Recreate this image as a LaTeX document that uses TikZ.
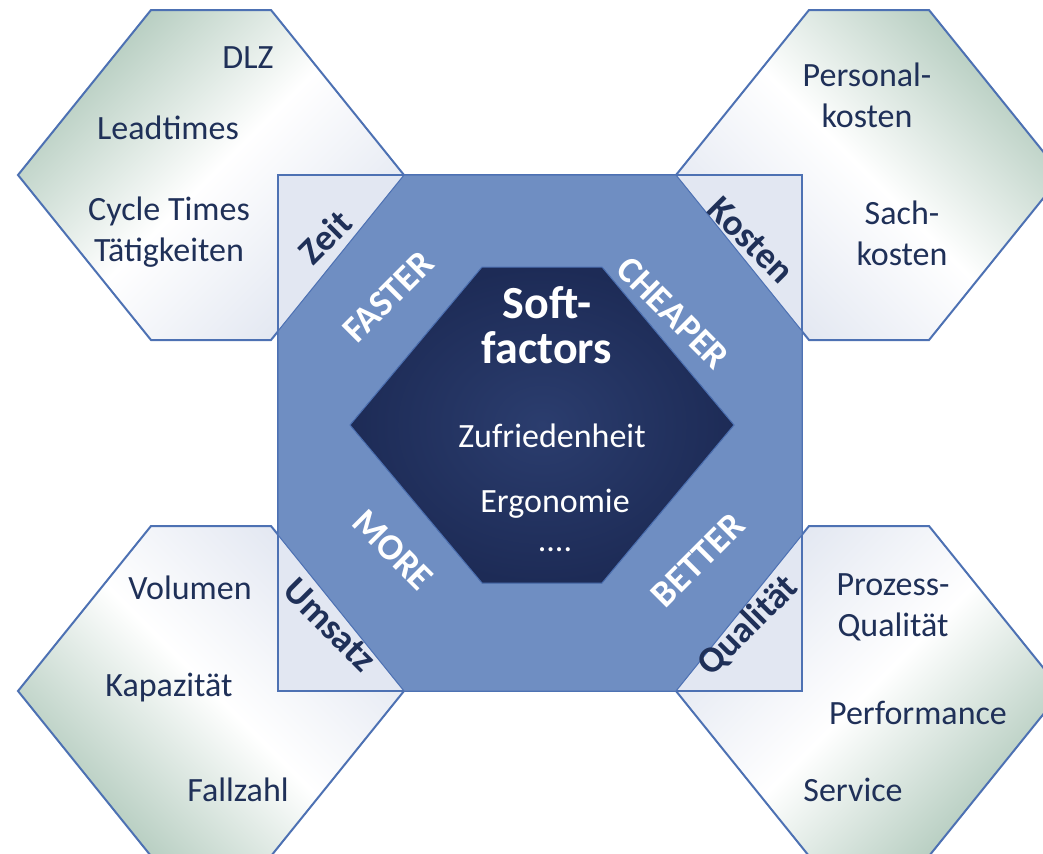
\documentclass[tikz,border=0pt]{standalone}
\usepackage{fontspec}
\setmainfont{Carlito}
\definecolor{hexgreen}{RGB}{176,201,187}
\definecolor{hexpale}{RGB}{224,229,240}
\definecolor{framefill}{RGB}{226,231,242}
\definecolor{ringblue}{RGB}{111,142,194}
\definecolor{edgeblue}{RGB}{77,113,179}
\definecolor{corenavy}{RGB}{29,43,86}
\definecolor{corelight}{RGB}{43,61,110}
\definecolor{textnavy}{RGB}{31,48,88}

\begin{document}
\begin{tikzpicture}[x=0.5pt, y=-0.5pt,
	outerhex/.style={draw=edgeblue, line width=1pt, left color=hexgreen, right color=hexpale, middle color=white},
	item/.style={font=\fontsize{17}{20.5}\selectfont, text=textnavy, align=center, inner sep=0pt},
	tag/.style={font=\fontsize{18.5}{22}\selectfont\bfseries, text=textnavy, inner sep=0pt},
	goal/.style={font=\fontsize{18.5}{22}\selectfont\bfseries, text=white, inner sep=0pt},
	softitem/.style={font=\fontsize{17}{20.5}\selectfont, text=white, inner sep=0pt}]
	\useasboundingbox (0,0) rectangle (1043,853);
	\clip (0,0) rectangle (1043,853);
	% outer hexagons
	\filldraw[outerhex, shading angle=45] (211,175) ++(-193,0) -- ++(133,-165) -- ++(120,0) -- ++(133,165) -- ++(-133,165) -- ++(-120,0) -- cycle;
	\filldraw[outerhex, shading angle=-45] (869,175) ++(-193,0) -- ++(133,-165) -- ++(120,0) -- ++(133,165) -- ++(-133,165) -- ++(-120,0) -- cycle;
	\filldraw[outerhex, shading angle=135] (211,691) ++(-193,0) -- ++(133,-165) -- ++(120,0) -- ++(133,165) -- ++(-133,165) -- ++(-120,0) -- cycle;
	\filldraw[outerhex, shading angle=-135] (869,691) ++(-193,0) -- ++(133,-165) -- ++(120,0) -- ++(133,165) -- ++(-133,165) -- ++(-120,0) -- cycle;
	% frame and ring
	\filldraw[draw=edgeblue, line width=0.8pt, fill=framefill] (278,175) rectangle (802,691);
	\filldraw[draw=edgeblue, line width=0.5pt, fill=ringblue] (404,175) -- (676,175) -- (802,331) -- (802,535) -- (676,691) -- (404,691) -- (278,535) -- (278,331) -- cycle;
	% core hexagon
	\filldraw[draw=edgeblue, line width=0.5pt, inner color=corelight, outer color=corenavy] (542,425) ++(-192,0) -- ++(132,-158) -- ++(120,0) -- ++(132,158) -- ++(-132,158) -- ++(-120,0) -- cycle;
	% Zeit
	\node[item] (dlz) at (248,58) {DLZ};
	\node[item] (lead) at (168,128) {Leadtimes};
	\node[item] (cycle) at (169,232) {Cycle Times\\Tätigkeiten};
	% Kosten
	\node[item] (personal) at (867,95) {Personal-\\kosten};
	\node[item] (sach) at (902,233) {Sach-\\kosten};
	% Umsatz
	\node[item] (volumen) at (190,588) {Volumen};
	\node[item] (kapa) at (169,688) {Kapazität};
	\node[item] (fall) at (238,790) {Fallzahl};
	% Qualitaet
	\node[item] (prozess) at (893,607) {Prozess-\\Qualität};
	\node[item] (perf) at (918,713) {Performance};
	\node[item] (service) at (853,790) {Service};
	% corner tags
	\node[tag, rotate=45] (zeit) at (325,237) {Zeit};
	\node[tag, rotate=-45] (kosten) at (751,240) {Kosten};
	\node[tag, rotate=-45] (umsatz) at (330,625) {Umsatz};
	\node[tag, rotate=45] (quali) at (748,626) {Qualität};
	% ring labels
	\node[goal, rotate=45] (faster) at (388,297) {FASTER};
	\node[goal, rotate=-45] (cheaper) at (673,313) {CHEAPER};
	\node[goal, rotate=-45] (more) at (393,550) {MORE};
	\node[goal, rotate=45] (better) at (698,560) {BETTER};
	% core texts
	\node[font=\fontsize{23}{22.5}\selectfont\bfseries, text=white, align=center, inner sep=0pt] (soft) at (547,325) {Soft-\\factors};
	\node[softitem] (zufr) at (552,436) {Zufriedenheit};
	\node[softitem] (ergo) at (555,504) {Ergonomie};
	\node[softitem] (dots) at (555,550) {....};
\end{tikzpicture}
\end{document}
